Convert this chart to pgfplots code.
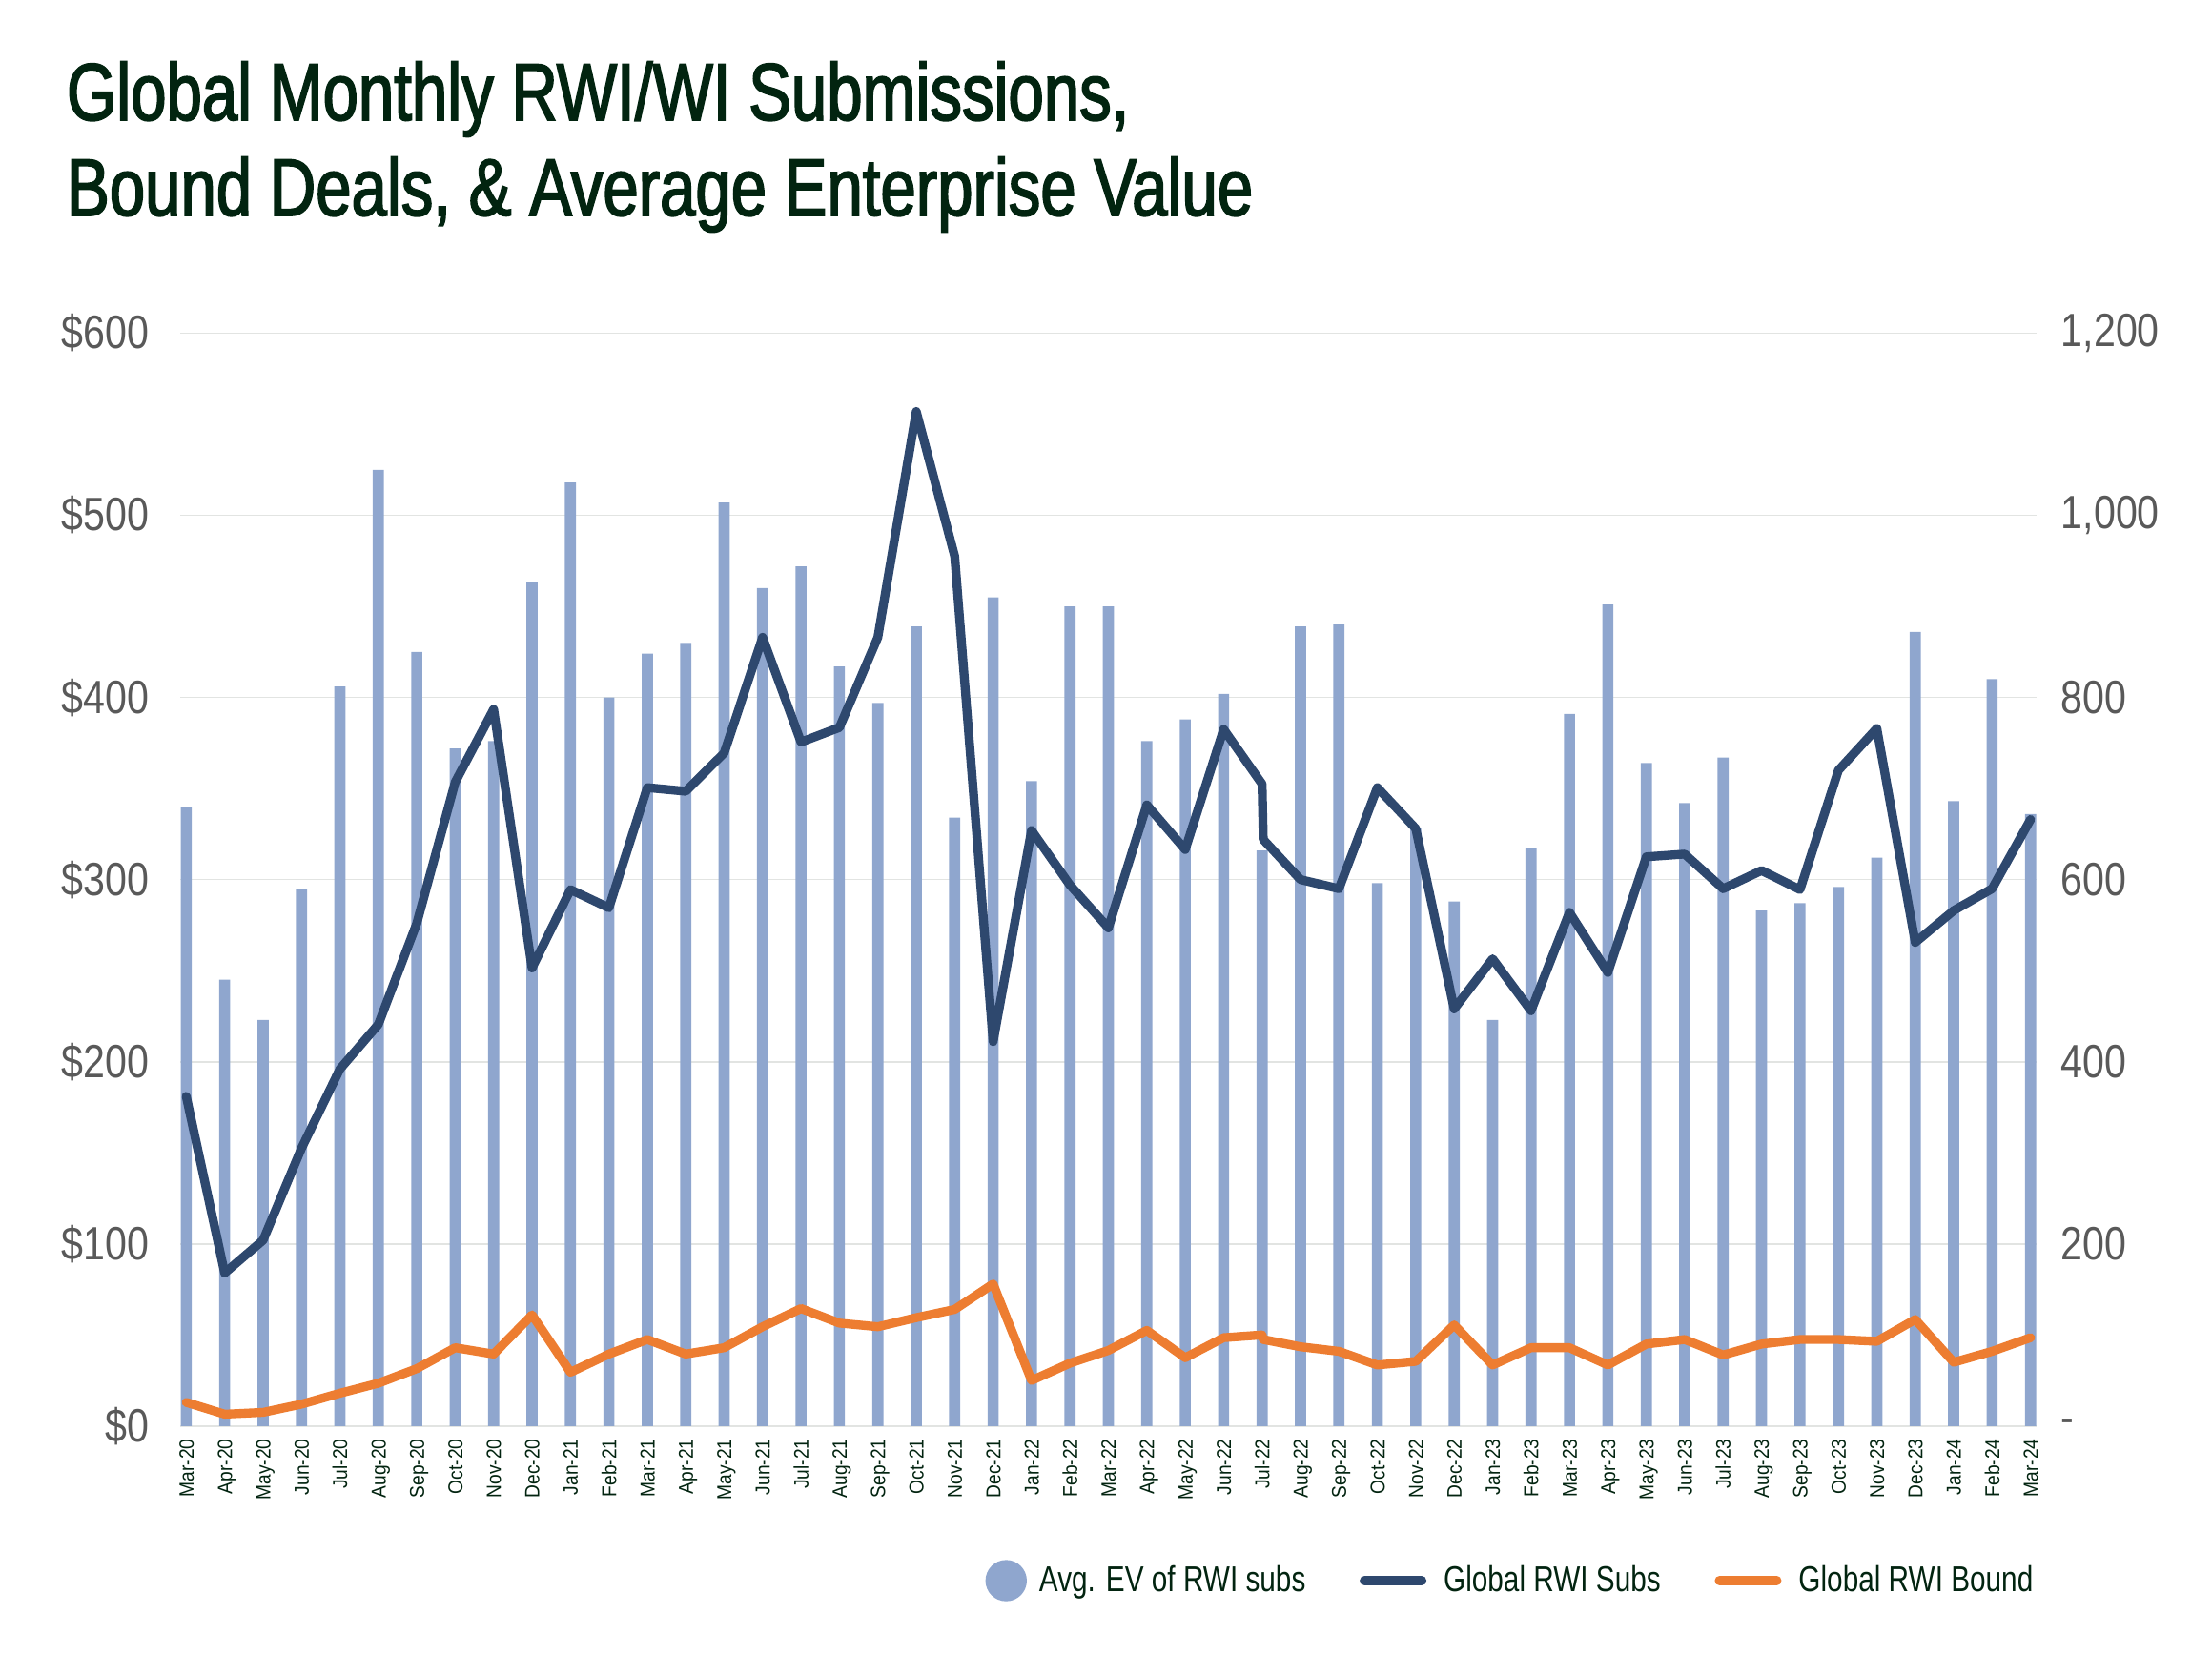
\documentclass[border=0pt]{standalone}
\usepackage{fontspec}
\setmainfont{Liberation Sans}
\newfontfamily\titlefont{Liberation Sans}[FakeStretch=0.79,FakeBold=2]
\newfontfamily\labfont{Liberation Sans}[FakeStretch=0.84]
\newfontfamily\tickfont{Liberation Sans}[FakeStretch=0.9]
\newfontfamily\legfont{Liberation Sans}[FakeStretch=0.79]
\usepackage{pgfplots}
\usepackage{pgfplotstable}
\pgfplotsset{compat=1.18}
\definecolor{barc}{RGB}{143,166,206}
\definecolor{subsc}{RGB}{46,72,110}
\definecolor{boundc}{RGB}{237,125,49}
\definecolor{titlec}{RGB}{2,36,16}
\definecolor{labc}{RGB}{89,89,89}
\definecolor{gridc}{RGB}{226,228,226}

\pgfplotstableread{
x ev
0 340
1 245
2 223
3 295
4 406
5 525
6 425
7 372
8 376
9 463
10 518
11 400
12 424
13 430
14 507
15 460
16 472
17 417
18 397
19 439
20 334
21 455
22 354
23 450
24 450
25 376
26 388
27 402
28 316
29 439
30 440
31 298
32 328
33 288
34 223
35 317
36 391
37 451
38 364
39 342
40 367
41 283
42 287
43 296
44 312
45 436
46 343
47 410
48 336
}\evtable

\pgfplotstableread{
x subs
0 362
1 168
2 204
3 305
4 392
5 441
6 552
7 707
8 787
9 503
10 589
11 569
12 701
13 697
14 739
15 866
16 751
17 767
18 866
19 1114
20 955
21 422
22 654
23 594
24 547
25 682
26 633
27 765
28 705
28.03 644
29 600
30 590
31 701
32 656
33 458
34 513
35 456
36 564
37 498
38 625
39 628
40 590
41 610
42 589
43 720
44 766
45 531
46 566
47 590
48 666
}\substable

\pgfplotstableread{
x bound
0 26
1 13
2 15
3 24
4 36
5 47
6 63
7 86
8 79
9 122
10 59
11 79
12 95
13 79
14 86
15 109
16 129
17 113
18 109
19 119
20 128
21 156
22 50
23 69
24 83
25 105
26 75
27 97
28 100
28.03 95
29 87
30 82
31 67
32 71
33 111
34 67
35 86
36 86
37 67
38 90
39 95
40 78
41 90
42 95
43 95
44 93
45 117
46 70
47 82
48 97
}\boundtable

\begin{document}
\begin{tikzpicture}[x=1pt,y=1pt]
\useasboundingbox (0,0) rectangle (696,520.5);
\node[anchor=base west, inner sep=0pt, text=titlec, font=\titlefont\fontsize{25.5}{30}\selectfont] at (20.8,482.7) {Global Monthly RWI/WI Submissions,};
\node[anchor=base west, inner sep=0pt, text=titlec, font=\titlefont\fontsize{25.5}{30}\selectfont] at (20.8,452.7) {Bound Deals, \& Average Enterprise Value};

\begin{axis}[
  at={(56.85pt,71.76pt)}, anchor=south west,
  scale only axis, width=583.8pt, height=343.9pt,
  xmin=-0.145, xmax=48.145, ymin=0, ymax=600,
  axis line style={draw=none},
  major tick length=0pt,
  tick style={draw=none},
  ytick={0,100,200,300,400,500,600},
  yticklabels={\$0,\$100,\$200,\$300,\$400,\$500,\$600},
  ymajorgrids,
  grid style={gridc, line width=0.5pt},
  yticklabel style={font=\labfont\fontsize{14.7}{16}\selectfont, text=labc, anchor=east, inner sep=0pt},
  yticklabel shift=9.8pt,
  xtick={0,1,...,48},
  xticklabels={Mar-20,Apr-20,May-20,Jun-20,Jul-20,Aug-20,Sep-20,Oct-20,Nov-20,Dec-20,Jan-21,Feb-21,Mar-21,Apr-21,May-21,Jun-21,Jul-21,Aug-21,Sep-21,Oct-21,Nov-21,Dec-21,Jan-22,Feb-22,Mar-22,Apr-22,May-22,Jun-22,Jul-22,Aug-22,Sep-22,Oct-22,Nov-22,Dec-22,Jan-23,Feb-23,Mar-23,Apr-23,May-23,Jun-23,Jul-23,Aug-23,Sep-23,Oct-23,Nov-23,Dec-23,Jan-24,Feb-24,Mar-24},
  xticklabel style={font=\tickfont\fontsize{6.4}{7}\selectfont, text=titlec, rotate=90, anchor=east, inner sep=0pt, text height=4.6pt, text depth=0pt, xshift=1.5pt},
  xticklabel shift=5.4pt,
  ybar, bar width=3.5pt,
]
\addplot[fill=barc, draw=none] table[x=x, y=ev] {\evtable};
\end{axis}

\begin{axis}[
  at={(56.85pt,71.76pt)}, anchor=south west,
  scale only axis, width=583.8pt, height=343.9pt,
  xmin=-0.145, xmax=48.145, ymin=0, ymax=1200,
  axis y line*=right, axis x line=none,
  axis line style={draw=none},
  major tick length=0pt,
  tick style={draw=none},
  ytick={0,200,400,600,800,1000,1200},
  yticklabels={-,200,400,600,800,{1,000},{1,200}},
  yticklabel style={font=\labfont\fontsize{14.7}{16}\selectfont, text=labc, anchor=west, inner sep=0pt},
  yticklabel shift=7.7pt,
  legend columns=3,
  legend style={draw=none, fill=none, anchor=east, at={(1.0073,-0.1415)},
    font=\legfont\fontsize{11.3}{13}\selectfont, text=titlec,
    /tikz/every even column/.append style={column sep=15pt}},
]
\addlegendimage{legend image code/.code={\fill[barc] (6.3pt,0pt) circle (6.3pt); \path (14.5pt,0pt);}}
\addlegendentry{Avg. EV of RWI subs}
\addplot[subsc, line width=2.8pt, line join=round, line cap=round,
  legend image code/.code={\draw[subsc, line width=3pt, line cap=round] (1.5pt,0pt) -- (19.5pt,0pt); \path (23pt,0pt);}]
  table[x=x, y=subs] {\substable};
\addlegendentry{Global RWI Subs}
\addplot[boundc, line width=2.8pt, line join=round, line cap=round,
  legend image code/.code={\draw[boundc, line width=3pt, line cap=round] (1.5pt,0pt) -- (19.5pt,0pt); \path (23pt,0pt);}]
  table[x=x, y=bound] {\boundtable};
\addlegendentry{Global RWI Bound}
\end{axis}
\end{tikzpicture}
\end{document}
